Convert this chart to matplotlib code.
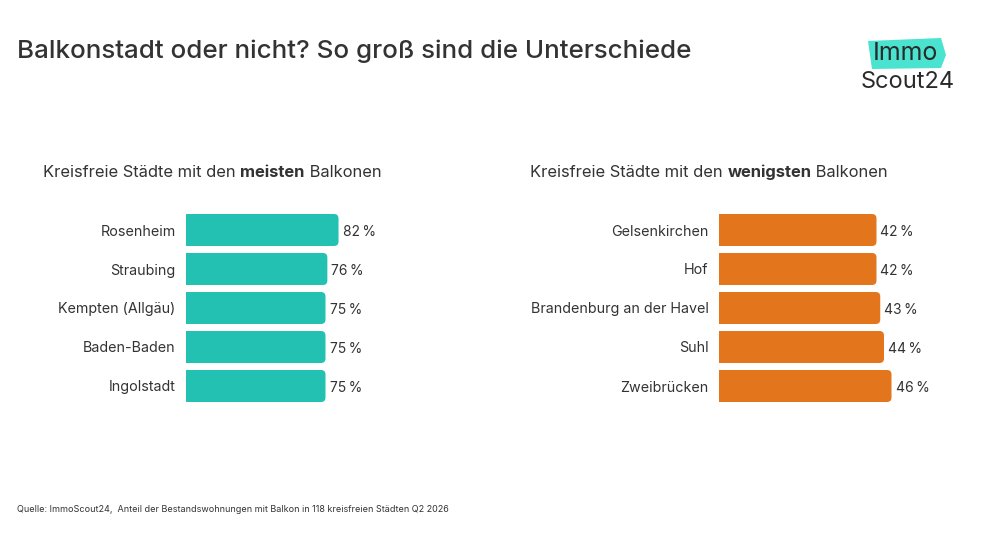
import matplotlib
matplotlib.use("Agg")
import matplotlib.pyplot as plt
from matplotlib.patches import FancyBboxPatch, Polygon

plt.rcParams['font.family'] = ['Inter', 'DejaVu Sans']

title = "Balkonstadt oder nicht? So groß sind die Unterschiede"
source = "Quelle: ImmoScout24,  Anteil der Bestandswohnungen mit Balkon in 118 kreisfreien Städten Q2 2026"

top_cities = ["Rosenheim", "Straubing", "Kempten (Allgäu)", "Baden-Baden", "Ingolstadt"]
top_values = [82, 76, 75, 75, 75]
low_cities = ["Gelsenkirchen", "Hof", "Brandenburg an der Havel", "Suhl", "Zweibrücken"]
low_values = [42, 42, 43, 44, 46]

TEAL = "#22C1B2"
ORANGE = "#E3761C"
TXT = "#333333"

W, H = 1000, 536
fig = plt.figure(figsize=(W / 100, H / 100), dpi=100)
fig.patch.set_facecolor("white")

def fx(px):
    return px / W

def fy(py):
    return 1 - py / H

def panel(x0_px, x1_px, xmax, cats, vals, color):
    top_px, bot_px = 210.5, 405.5
    ax = fig.add_axes([fx(x0_px), fy(bot_px), fx(x1_px - x0_px), (bot_px - top_px) / H])
    ypos = list(range(len(cats)))
    bars = ax.barh(ypos, vals, height=0.82, color=color)
    ax.set_xlim(0, xmax)
    ax.set_ylim(len(cats) - 0.5, -0.5)
    px_per_x = (x1_px - x0_px) / xmax
    px_per_y = (bot_px - top_px) / len(cats)
    r_px = 4.5
    rx = r_px / px_per_x
    ry = r_px / px_per_y
    for b in bars:
        x, y, w, h = b.get_x(), b.get_y(), b.get_width(), b.get_height()
        b.set_visible(False)
        p = FancyBboxPatch((x - 3 * rx, y), w + 3 * rx, h,
                           boxstyle=f"round,pad=0,rounding_size={rx}",
                           mutation_aspect=ry / rx,
                           facecolor=color, edgecolor="none")
        ax.add_patch(p)
        ax.text(w + 4 / px_per_x, y + h / 2 + 0.05, f"{w:g}\u2009%", va="center", ha="left",
                fontsize=10, color=TXT)
    ax.set_yticks(ypos)
    ax.set_yticklabels(cats, fontsize=10.3, color=TXT)
    ax.tick_params(axis="y", length=0, pad=7.5)
    ax.set_xticks([])
    for s in ax.spines.values():
        s.set_visible(False)
    ax.patch.set_alpha(0)
    return ax

panel(186, 420, 234 / 1.86, top_cities, top_values, TEAL)
panel(719, 960, 241 / 3.75, low_cities, low_values, ORANGE)

fig.text(fx(17), fy(58), title, fontsize=18.7, fontweight="medium", color=TXT, va="baseline", ha="left")

def mixed(x_px, y_px, parts):
    renderer = fig.canvas.get_renderer()
    x = fx(x_px)
    for txt, wt in parts:
        t = fig.text(x, fy(y_px), txt, fontsize=11.9, fontweight=wt, color=TXT, va="baseline", ha="left")
        bb = t.get_window_extent(renderer=renderer)
        x += bb.width / W
    return x

mixed(43, 177, [("Kreisfreie Städte mit den ", "normal"), ("meisten", "bold"), (" Balkonen", "normal")])
mixed(530, 177, [("Kreisfreie Städte mit den ", "normal"), ("wenigsten", "bold"), (" Balkonen", "normal")])

fig.text(fx(17), fy(509), source, fontsize=6.5, color=TXT, va="center", ha="left")

# logo
poly = Polygon([[fx(868), fy(41)], [fx(941), fy(38)], [fx(946), fy(55)], [fx(941), fy(68)], [fx(872), fy(69)]],
               closed=True, transform=fig.transFigure, facecolor="#49E3CF", edgecolor="none")
fig.patches.append(poly)
fig.text(fx(905), fy(54), "Immo", fontsize=18, color="#2a2a2a", va="center", ha="center")
fig.text(fx(907.5), fy(82), "Scout24", fontsize=17, color="#2a2a2a", va="center", ha="center")

fig.savefig("out.png", dpi=100, facecolor="white")
